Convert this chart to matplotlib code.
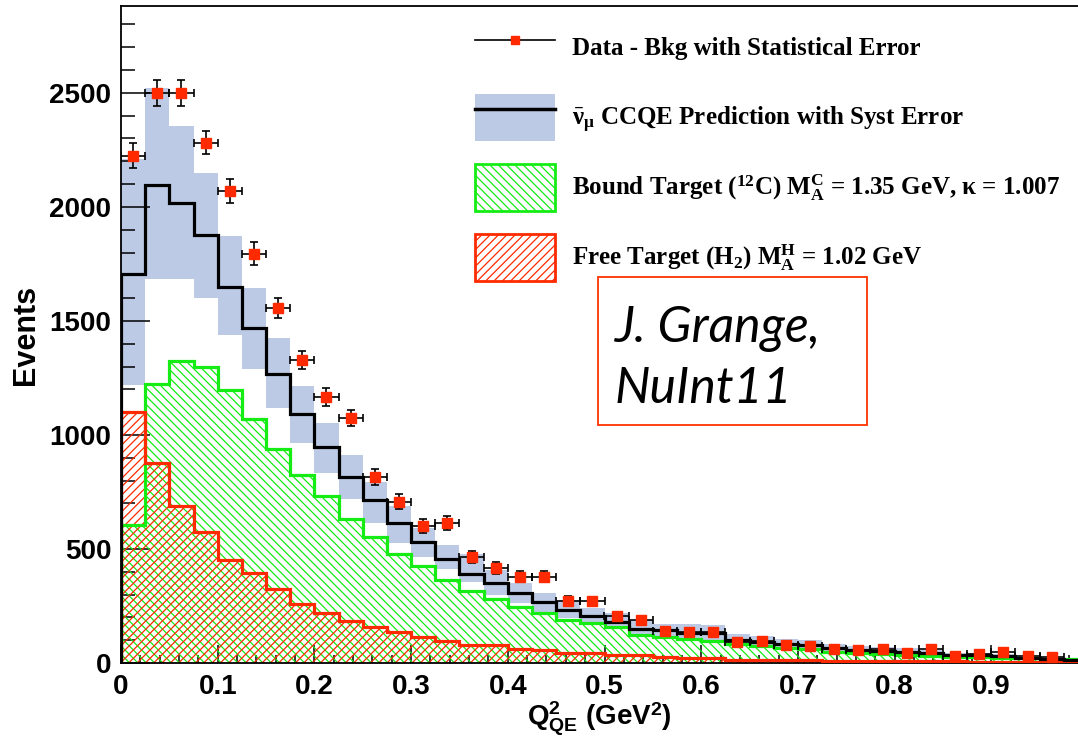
"""
Q2_QE distribution for antineutrino CCQE events, data vs prediction.
"""
import numpy as np
import matplotlib.pyplot as plt
from matplotlib.lines import Line2D
from matplotlib.patches import Patch, Rectangle
from matplotlib.ticker import MultipleLocator, FuncFormatter

# Plotting parameters (ROOT-like look)
plt.rcParams['mathtext.fontset'] = 'custom'
plt.rcParams['mathtext.rm'] = 'Liberation Serif:bold'
plt.rcParams['mathtext.it'] = 'Liberation Serif:bold'
plt.rcParams['mathtext.bf'] = 'Liberation Serif:bold'
plt.rcParams['mathtext.sf'] = 'Liberation Sans:bold'
plt.rcParams['mathtext.default'] = 'rm'
plt.rcParams['hatch.linewidth'] = 0.9

# %% Data
# Bin edges in Q2_QE (GeV^2), 0.025 wide
edges = np.linspace(0., 1., 41)

# Data - Bkg and statistical error (first 39 bins)
data = [2225, 2500, 2500, 2282, 2070, 1795, 1557, 1329, 1167, 1075,
        815, 707, 601, 614, 464, 416, 378, 378, 272, 270,
        206, 189, 142, 137, 137, 91, 98, 78, 75, 60,
        58, 61, 45, 63, 31, 39, 47, 31, 25]
data_err = [55, 58, 58, 52, 52, 49, 45, 41, 38, 36,
            35, 32, 29, 29, 26, 25, 24, 24, 21, 21,
            19, 18, 16, 16, 16, 14, 14, 13, 13, 12,
            12, 12, 11, 12, 10, 10, 11, 10, 9]

# CCQE prediction and its systematic band
pred = [1705, 2095, 2018, 1875, 1650, 1469, 1268, 1094, 945, 814,
        715, 614, 531, 456, 390, 351, 307, 268, 232, 206,
        180, 149, 146, 133, 130, 101, 94, 83, 79, 64,
        57, 54, 50, 45, 35, 35, 31, 20, 16, 14]
pred_hi = [2210, 2520, 2355, 2149, 1873, 1645, 1423, 1215, 1053, 910,
           795, 689, 592, 518, 478, 408, 351, 307, 276, 241,
           219, 189, 171, 170, 165, 125, 118, 105, 100, 82,
           74, 70, 64, 58, 46, 45, 40, 28, 23, 20]
pred_lo = [1218, 1682, 1682, 1601, 1440, 1289, 1118, 965, 833, 719,
           614, 526, 465, 412, 355, 298, 263, 224, 197, 175,
           154, 123, 114, 105, 100, 80, 74, 65, 62, 50,
           44, 42, 38, 34, 26, 26, 23, 14, 11, 10]

# Bound target (12C) component
bound = [605, 1224, 1325, 1300, 1197, 1070, 939, 825, 732, 631,
         553, 478, 425, 364, 316, 281, 246, 219, 189, 176,
         158, 123, 114, 105, 95, 82, 76, 66, 60, 50,
         46, 41, 36, 32, 28, 25, 22, 20, 18, 16]

# Free target (H2) component
free = [1100, 877, 689, 575, 452, 395, 324, 258, 219, 184,
        158, 136, 112, 95, 79, 78, 60, 57, 44, 42,
        35, 34, 26, 24, 22, 14, 13, 13, 12, 8,
        8, 8, 7, 7, 7, 3, 3, 3, 3, 3]

labels = ['Data - Bkg with Statistical Error',
          r'$\bar{\nu}_{\mu}$ CCQE Prediction with Syst Error',
          r'Bound Target ($^{12}$C) $\mathrm{M}_{A}^{C}$ = 1.35 GeV, κ = 1.007',
          r'Free Target (H$_{2}$) $\mathrm{M}_{A}^{H}$ = 1.02 GeV']

# Colours
c_band = '#bccae6'
c_green = '#14ec14'
c_red = '#ff2a00'

# %% Figure
fig = plt.figure(figsize=(10.78, 7.36), dpi=100)
ax = fig.add_axes([121/1078, 73/736, 957/1078, 657/736])

# Systematic band
ax.stairs(pred_hi, edges, baseline=pred_lo, fill=True, color=c_band,
          zorder=1)

# Hatched components
ax.stairs(bound, edges, fill=True, facecolor='none', edgecolor=c_green,
          hatch='\\\\\\\\', linewidth=0, zorder=2)
ax.stairs(free, edges, fill=True, facecolor='none', edgecolor=c_red,
          hatch='////', linewidth=0, zorder=2)
ax.stairs(bound, edges, color=c_green, linewidth=2.3, zorder=3)
ax.stairs(free, edges, color=c_red, linewidth=2.3, zorder=3)

# Prediction
ax.stairs(pred, edges, color='k', linewidth=2.3, zorder=4)

# Data points
n = len(data)
centers = 0.5*(edges[:-1] + edges[1:])[:n]
half = 0.5*np.diff(edges)[:n]
ax.errorbar(centers, data, xerr=half, yerr=data_err, fmt='s', ms=7,
            mfc=c_red, mec=c_red, ecolor='k', elinewidth=1.2,
            capsize=3, capthick=1.2, zorder=6)

# Axes setup
ax.set_xlim(0, 957/967)
ax.set_ylim(0, 2881)
ax.spines['right'].set_visible(False)
for s in ('left', 'bottom', 'top'):
    ax.spines[s].set_linewidth(1.3)
ax.xaxis.set_major_locator(MultipleLocator(0.1))
ax.xaxis.set_minor_locator(MultipleLocator(0.02))
ax.yaxis.set_major_locator(MultipleLocator(500))
ax.yaxis.set_minor_locator(MultipleLocator(100))
fmt = FuncFormatter(lambda v, p: '%g' % v)
ax.xaxis.set_major_formatter(fmt)
ax.yaxis.set_major_formatter(fmt)
ax.tick_params(axis='both', which='both', direction='in', top=False,
               right=False, width=1.1)
ax.tick_params(axis='y', which='major', length=21, pad=7)
ax.tick_params(axis='y', which='minor', length=10)
ax.tick_params(axis='x', which='major', length=13, pad=8)
ax.tick_params(axis='x', which='minor', length=6)
for lab in ax.get_xticklabels() + ax.get_yticklabels():
    lab.set_fontfamily('Liberation Sans')
    lab.set_fontweight('bold')
    lab.set_fontsize(20)

ax.set_ylabel('Events', fontfamily='Liberation Sans', fontweight='bold',
              fontsize=22, labelpad=6)
ax.set_xlabel(r'$\mathsf{Q}^{\mathsf{2}}_{\mathsf{QE}}$ (GeV$^{\mathsf{2}}$)',
              fontfamily='Liberation Sans', fontweight='bold', fontsize=20,
              labelpad=-1)

# Legend
handles = [Line2D([], [], color='k', lw=1.2, marker='s', ms=6,
                  mfc=c_red, mec=c_red),
           (Patch(facecolor=c_band, edgecolor='none'),
            Line2D([], [], color='k', lw=2.5)),
           Patch(facecolor='white', edgecolor=c_green, hatch='\\\\\\\\',
                 lw=2),
           Patch(facecolor='white', edgecolor=c_red, hatch='////', lw=2)]
ax.legend(handles, labels, loc='upper left',
          bbox_to_anchor=(475/1078, 1 - 24/736),
          bbox_transform=fig.transFigure, frameon=False,
          prop={'family': 'Liberation Serif', 'weight': 'bold', 'size': 18},
          handlelength=3.2, handleheight=2.51, labelspacing=0.92,
          handletextpad=0.68, borderpad=0, borderaxespad=0)

# Reference box
box = Rectangle((598/1078, 1 - 425/736), 269/1078, 148/736,
                transform=fig.transFigure, facecolor='white',
                edgecolor='#ff3300', lw=1.3, zorder=10)
ax.add_patch(box)
box.set_clip_on(False)
fig.text(615/1078, 1 - 342/736, 'J. Grange,', fontfamily='Lato',
         style='italic', fontsize=36, va='baseline', zorder=11)
fig.text(615/1078, 1 - 403/736, 'NuInt11', fontfamily='Lato',
         style='italic', fontsize=36, va='baseline', zorder=11)

plt.savefig('out.png', dpi=100)
